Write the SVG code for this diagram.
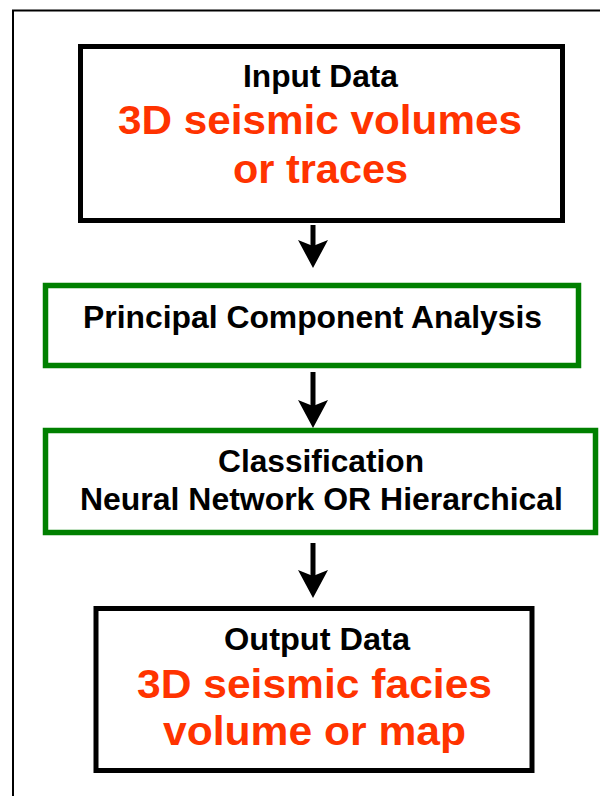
<svg xmlns="http://www.w3.org/2000/svg" xmlns:xlink="http://www.w3.org/1999/xlink" width="600" height="796" viewBox="0 0 600 796">
  <style>
    .frame { fill: none; stroke: #000; stroke-width: 2; }
    .box-black { fill: #fff; stroke: #000; stroke-width: 5; }
    .box-green { fill: #fff; stroke: #008000; stroke-width: 5.5; }
    .t { font-family: "Liberation Sans", Arial, sans-serif; font-weight: bold; text-anchor: middle; }
    .black { fill: #000; font-size: 31px; }
    .red { fill: #FF3300; font-size: 41px; }
    .shaft { stroke: #000; stroke-width: 5; }
  </style>
  <defs>
    <path id="head" d="M-15,-28 L0,-22 L15,-28 L0,0 Z" fill="#000"/>
  </defs>
  <rect width="600" height="796" fill="#fff"/>
  <rect class="frame" x="13" y="10.5" width="620" height="820"/>

  <g id="input">
    <rect class="box-black" x="80.5" y="46.5" width="482" height="174"/>
    <text class="t black" x="320.5" y="87" textLength="155" lengthAdjust="spacingAndGlyphs">Input Data</text>
    <text class="t red" x="320" y="134" textLength="404" lengthAdjust="spacingAndGlyphs">3D seismic volumes</text>
    <text class="t red" x="320.5" y="183" textLength="175" lengthAdjust="spacingAndGlyphs">or traces</text>
  </g>

  <g id="pca">
    <rect class="box-green" x="45.5" y="285.5" width="533" height="80"/>
    <text class="t black" x="312.5" y="328" textLength="459" lengthAdjust="spacingAndGlyphs">Principal Component Analysis</text>
  </g>

  <g id="classification">
    <rect class="box-green" x="45.5" y="430.5" width="550" height="102"/>
    <text class="t black" x="321" y="472" textLength="206" lengthAdjust="spacingAndGlyphs">Classification</text>
    <text class="t black" x="321.5" y="510" textLength="483" lengthAdjust="spacingAndGlyphs">Neural Network OR Hierarchical</text>
  </g>

  <g id="output">
    <rect class="box-black" x="96" y="608.5" width="436" height="162"/>
    <text class="t black" x="317" y="650" textLength="186" lengthAdjust="spacingAndGlyphs">Output Data</text>
    <text class="t red" x="314.5" y="698" textLength="355" lengthAdjust="spacingAndGlyphs">3D seismic facies</text>
    <text class="t red" x="314.5" y="745" textLength="303" lengthAdjust="spacingAndGlyphs">volume or map</text>
  </g>

  <g id="connectors">
    <line class="shaft" x1="313" y1="225" x2="313" y2="250"/>
    <use xlink:href="#head" x="313" y="268"/>
    <line class="shaft" x1="313" y1="372" x2="313" y2="410"/>
    <use xlink:href="#head" x="313" y="428"/>
    <line class="shaft" x1="313" y1="543" x2="313" y2="580"/>
    <use xlink:href="#head" x="313" y="598"/>
  </g>
</svg>
